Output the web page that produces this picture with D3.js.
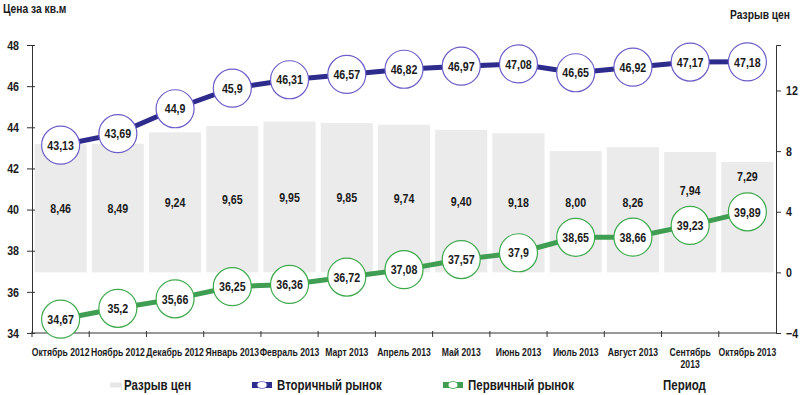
<!DOCTYPE html>
<html>
<head>
<meta charset="utf-8">
<script src="https://cdn.jsdelivr.net/npm/d3@7/dist/d3.min.js"></script>
<style>
  body { margin: 0; background: #fff; }
  svg text { font-family: "Liberation Sans", Arial, sans-serif; font-weight: bold; fill: #1a1a1a; }
</style>
</head>
<body>
<div id="chart"></div>
<script>
// chart data
var categories = ["Октябрь 2012", "Ноябрь 2012", "Декабрь 2012", "Январь 2013", "Февраль 2013", "Март 2013",
    "Апрель 2013", "Май 2013", "Июнь 2013", "Июль 2013", "Август 2013", "Сентябрь 2013", "Октябрь 2013"];
var gapValues = [8.46, 8.49, 9.24, 9.65, 9.95, 9.85, 9.74, 9.40, 9.18, 8.00, 8.26, 7.94, 7.29];
var secondaryValues = [43.13, 43.69, 44.9, 45.9, 46.31, 46.57, 46.82, 46.97, 47.08, 46.65, 46.92, 47.17, 47.18];
var primaryValues = [34.67, 35.2, 35.66, 36.25, 36.36, 36.72, 37.08, 37.57, 37.9, 38.65, 38.66, 39.23, 39.89];
var leftTicks = [34, 36, 38, 40, 42, 44, 46, 48];
var rightTicks = [-4, 0, 4, 8, 12];

var W = 800, H = 395;
var plotLeft = 32, plotRight = 776, plotTop = 45, plotBottom = 333;
var NARROW = 0.82; // Arial Narrow look: squeeze Liberation Sans horizontally

var svg = d3.select("#chart").append("svg")
    .attr("width", W)
    .attr("height", H);

// --- Scales ---
var x = d3.scaleBand()
    .domain(categories)
    .range([plotLeft, plotRight])
    .paddingInner(0.09)
    .paddingOuter(0.045);
var step = x.step();
var cx = c => x(c) + x.bandwidth() / 2;

var yLeft = d3.scaleLinear().domain([34, 48]).range([plotBottom, plotTop]);
var yRight = d3.scaleLinear().domain([-4, 15]).range([plotBottom, plotTop]);

var navy = "#2d2b8b", navyRing = "#6b5fc9";
var green = "#3f9e52", greenRing = "#3daa4c";
var comma = v => String(v).replace(".", ",");

// --- Bars (price gap, right axis) ---
svg.append("g")
    .selectAll("rect")
    .data(categories)
    .enter().append("rect")
    .attr("x", d => x(d))
    .attr("width", x.bandwidth())
    .attr("y", (d, i) => yRight(gapValues[i]))
    .attr("height", (d, i) => yRight(0) - yRight(gapValues[i]))
    .attr("fill", "#ebebeb");

// bar labels: middle of bar, lifted above the green circle when they would collide
svg.append("g")
    .selectAll("text")
    .data(categories)
    .enter().append("text")
    .attr("x", d => cx(d))
    .attr("y", (d, i) => {
        var mid = (yRight(gapValues[i]) + yRight(0)) / 2;
        return Math.min(mid, yLeft(primaryValues[i]) - 35);
    })
    .attr("dy", "0.35em")
    .attr("text-anchor", "middle")
    .style("font-size", "13px")
    .text((d, i) => gapValues[i].toFixed(2).replace(".", ","));

// --- Axes ---
var axisColor = "#333";

var gl = svg.append("g")
    .attr("transform", `translate(${plotLeft},0)`)
    .call(d3.axisLeft(yLeft).tickValues(leftTicks).tickSizeOuter(0).tickSize(5).tickPadding(8));
gl.selectAll(".tick line").attr("x1", 3);

var gr = svg.append("g")
    .attr("transform", `translate(${plotRight},0)`)
    .call(d3.axisRight(yRight).tickValues(rightTicks).tickSizeOuter(0).tickSize(5).tickPadding(5));

[gl, gr].forEach(g => {
    g.attr("font-family", null).attr("font-size", null);
    g.select(".domain").attr("stroke", axisColor);
    g.selectAll(".tick line").attr("stroke", axisColor);
    g.selectAll(".tick text")
        .style("font-size", "13px")
        .attr("fill", "#1a1a1a");
});

// bottom axis: line with ticks at band boundaries
svg.append("line")
    .attr("x1", plotLeft).attr("x2", plotRight)
    .attr("y1", plotBottom).attr("y2", plotBottom)
    .attr("stroke", axisColor);
svg.append("g")
    .selectAll("line")
    .data(d3.range(categories.length))
    .enter().append("line")
    .attr("x1", i => plotLeft + i * step)
    .attr("x2", i => plotLeft + i * step)
    .attr("y1", plotBottom - 2)
    .attr("y2", plotBottom + 4)
    .attr("stroke", axisColor);

var xl = svg.append("g")
    .selectAll("text")
    .data(categories)
    .enter().append("text")
    .attr("x", d => cx(d))
    .attr("y", 356)
    .attr("text-anchor", "middle")
    .style("font-size", "10.5px")
    .text(d => d);
// wrap labels that do not fit their band
xl.each(function (d) {
    var t = d3.select(this);
    if (this.getComputedTextLength() * NARROW > step + 3) {
        t.text(null);
        d.split(" ").forEach((w, k) => {
            t.append("tspan").attr("x", 0).attr("dy", k ? "1.1em" : 0).text(w);
        });
    }
});

// --- Lines ---
var line = d3.line().x((v, i) => cx(categories[i])).y(v => yLeft(v));

function drawSeries(values, lineColor, ringColor) {
    svg.append("path")
        .datum(values)
        .attr("d", line)
        .attr("fill", "none")
        .attr("stroke", lineColor)
        .attr("stroke-width", 5);

    var pts = svg.append("g")
        .selectAll("g")
        .data(values)
        .enter().append("g")
        .attr("transform", (v, i) => `translate(${cx(categories[i])},${yLeft(v)})`);
    pts.append("circle")
        .attr("r", 19)
        .attr("fill", "#fff")
        .attr("stroke", ringColor)
        .attr("stroke-width", 1.2);
    pts.append("text")
        .attr("text-anchor", "middle")
        .attr("dy", "0.36em")
        .style("font-size", "13px")
        .text(v => comma(v));
}
drawSeries(secondaryValues, navy, navyRing);
drawSeries(primaryValues, green, greenRing);

// --- Titles ---
svg.append("text").attr("x", 3).attr("y", 13).style("font-size", "12.5px").text("Цена за кв.м");
svg.append("text").attr("x", 790).attr("y", 19).attr("text-anchor", "end").style("font-size", "12.5px").text("Разрыв цен");

// --- Legend ---
var ly = 385;
var legend = svg.append("g");
legend.append("rect").attr("x", 110).attr("y", ly - 2.5).attr("width", 12).attr("height", 5).attr("fill", "#e6e6e6");
legend.append("text").attr("x", 124).attr("y", ly).attr("dy", "0.35em").style("font-size", "14px").text("Разрыв цен");

[[252, navy, navyRing, "Вторичный рынок"], [443, green, greenRing, "Первичный рынок"]].forEach(([lx, c, rc, label]) => {
    legend.append("rect").attr("x", lx).attr("y", ly - 3).attr("width", 20).attr("height", 6).attr("fill", c);
    legend.append("ellipse").attr("cx", lx + 10).attr("cy", ly).attr("rx", 5).attr("ry", 3.5)
        .attr("fill", "#fff").attr("stroke", rc).attr("stroke-width", 0.8);
    legend.append("text").attr("x", lx + 25).attr("y", ly).attr("dy", "0.35em").style("font-size", "14px").text(label);
});
legend.append("text").attr("x", 663).attr("y", ly).attr("dy", "0.35em").style("font-size", "14px").text("Период");

// squeeze every text horizontally around its anchor point
svg.selectAll("text").each(function () {
    var t = d3.select(this);
    var tx = +t.attr("x") || 0, ty = +t.attr("y") || 0;
    t.attr("x", 0).attr("y", 0)
        .attr("transform", `translate(${tx},${ty}) scale(${NARROW},1)`);
});
</script>
</body>
</html>
